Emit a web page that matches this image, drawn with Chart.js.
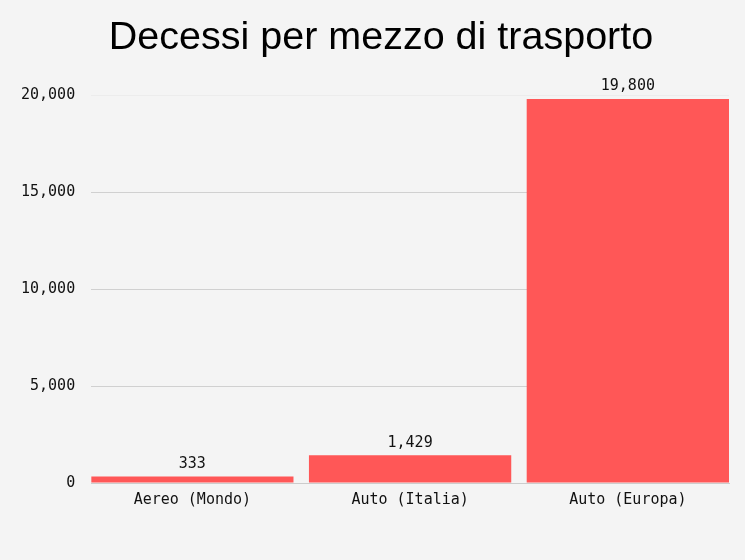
<!DOCTYPE html>
<html>
<head>
<meta charset="utf-8">
<script src="https://cdn.jsdelivr.net/npm/chart.js@4"></script>
<style>
  html, body { margin: 0; padding: 0; background: #f4f4f4; }
  #wrap { width: 745px; height: 560px; }
</style>
</head>
<body>
<div id="wrap"><canvas id="myChart"></canvas></div>
<script>
var titolo = 'Decessi per mezzo di trasporto';
var categorie = ['Aereo (Mondo)', 'Auto (Italia)', 'Auto (Europa)'];
var decessi = [333, 1429, 19800];
var tickStep = 5000;

var monoFont = "'DejaVu Sans Mono', 'Liberation Mono', monospace";

// labels above each bar + the title (drawn a bit right of centre, like the original)
const barLabels = {
    id: 'barLabels',
    afterDatasetsDraw(chart) {
        const ctx = chart.ctx;
        const meta = chart.getDatasetMeta(0);
        ctx.save();
        ctx.font = '15px ' + monoFont;
        ctx.fillStyle = '#111';
        ctx.textAlign = 'center';
        ctx.textBaseline = 'bottom';
        meta.data.forEach(function (bar, i) {
            ctx.fillText(decessi[i].toLocaleString('en-US'), bar.x, bar.y - 5);
        });
        ctx.font = "39.5px 'Liberation Sans', Arial, sans-serif";
        ctx.fillStyle = '#000';
        ctx.textBaseline = 'middle';
        ctx.fillText(titolo, 381, 38);
        ctx.restore();
    }
};

// bars touch the plot edges, so x is a linear index scale
var barFrac = 0.929;
const data = {
    datasets: [{
        label: 'Decessi',
        backgroundColor: '#ff5757',
        data: decessi.map(function (v, i) { return { x: i, y: v }; }),
        barPercentage: barFrac,
        categoryPercentage: 1
    }]
};

const config = {
    type: 'bar',
    data: data,
    plugins: [barLabels],
    options: {
        responsive: true,
        maintainAspectRatio: false,
        animation: false,
        layout: { padding: { left: 5, right: 16, top: 95, bottom: 51 } },
        plugins: {
            legend: { display: false },
            tooltip: { enabled: false },
            title: { display: false }
        },
        scales: {
            x: {
                type: 'linear',
                offset: false,
                min: -barFrac / 2,
                max: categorie.length - 1 + barFrac / 2,
                afterBuildTicks: function (scale) {
                    scale.ticks = categorie.map(function (c, i) { return { value: i }; });
                },
                grid: { display: false },
                border: { color: '#cccccc' },
                ticks: {
                    color: '#111',
                    font: { family: monoFont, size: 15 },
                    padding: 0,
                    autoSkip: false,
                    maxRotation: 0,
                    callback: function (v) { return categorie[v]; }
                }
            },
            y: {
                min: 0,
                max: 20000,
                border: { display: false },
                grid: { color: function (c) { return c.tick.value === 20000 ? '#ececec' : '#d0d0d0'; }, drawTicks: false },
                ticks: {
                    stepSize: tickStep,
                    color: '#111',
                    padding: 16,
                    font: { family: monoFont, size: 15 },
                    callback: function (v) { return v.toLocaleString('en-US'); }
                }
            }
        }
    }
};

const myChart = new Chart(document.getElementById('myChart'), config);
</script>
</body>
</html>
